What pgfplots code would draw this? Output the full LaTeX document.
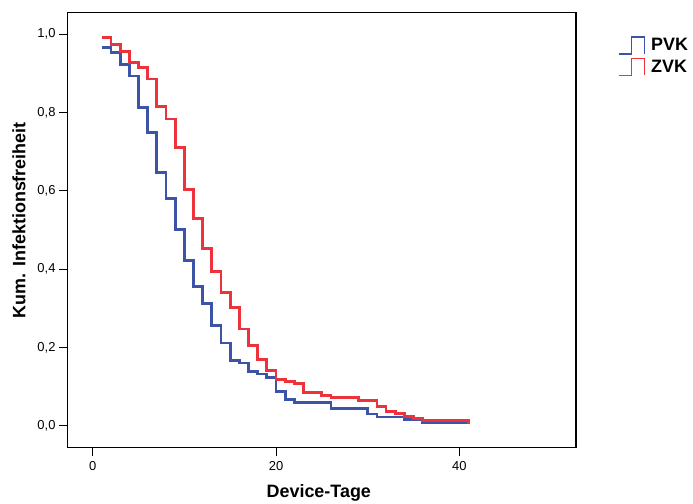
\documentclass[border=0pt]{standalone}
\usepackage{fontspec}
\setmainfont{Liberation Sans}
\usepackage{pgfplots}
\pgfplotsset{compat=1.18}
\definecolor{pvkblue}{RGB}{60,84,168}
\definecolor{zvkred}{RGB}{238,50,60}
\begin{document}
\begin{tikzpicture}
\useasboundingbox (-67.7bp,-56.3bp) rectangle (625.3bp,447.7bp);
\begin{axis}[
  scale only axis,
  width=508.3bp, height=435bp,
  at={(0,0)}, anchor=south west,
  xmin=-2.73, xmax=52.72,
  ymin=-0.0562, ymax=1.0544,
  xtick={0,20,40},
  ytick={0,0.2,0.4,0.6,0.8,1.0},
  xtick pos=bottom, ytick pos=left,
  tick align=outside,
  major tick length=8.7bp,
  tick style={black, line width=1bp},
  axis line style={black, line width=1.1bp},
  /pgf/number format/assume math mode=true,
  ticklabel style={font=\fontsize{13}{15}\selectfont},
  yticklabel style={/pgf/number format/.cd, fixed, fixed zerofill, precision=1, use comma},
  xticklabel style={yshift=-2bp},
  xlabel={Device-Tage},
  ylabel={Kum. Infektionsfreiheit},
  label style={font=\bfseries\fontsize{18}{21}\selectfont},
  xlabel style={at={(axis description cs:0.494,0)}, yshift=-45bp, anchor=center},
  ylabel style={at={(axis description cs:-0.096,0.523)}, anchor=center},
  legend style={at={(1.076,0.951)}, anchor=north west, draw=none, fill=none,
    font=\bfseries\fontsize{18}{20}\selectfont, row sep=3bp,
    /tikz/every odd column/.append style={column sep=4bp}},
  legend cell align=left,
  legend image code/.code={\draw[#1, line width=1.4bp]
    (0bp,-8.5bp) -- (13bp,-8.5bp) -- (13bp,8.5bp) -- (26bp,8.5bp) -- (26bp,-8.5bp);},
]
\addplot[const plot, pvkblue, line width=2.8bp] coordinates {
  (1,0.966) (2,0.953) (3,0.923) (4,0.893) (5,0.812) (6,0.749) (7,0.646)
  (8,0.580) (9,0.501) (10,0.422) (11,0.356) (12,0.312) (13,0.256) (14,0.211)
  (15,0.166) (16,0.160) (17,0.139) (18,0.132) (19,0.124) (20,0.088) (21,0.066)
  (22,0.060) (26,0.044) (30,0.030) (31,0.022) (34,0.015) (36,0.007) (41,0.007)
};
\addlegendentry{PVK}
\addplot[const plot, zvkred, line width=2.8bp] coordinates {
  (1,0.991) (2,0.974) (3,0.955) (4,0.928) (5,0.914) (6,0.885) (7,0.815)
  (8,0.783) (9,0.710) (10,0.604) (11,0.528) (12,0.452) (13,0.394) (14,0.341)
  (15,0.301) (16,0.247) (17,0.205) (18,0.170) (19,0.141) (20,0.118) (21,0.112)
  (22,0.107) (23,0.084) (25,0.078) (26,0.071) (29,0.065) (31,0.048) (32,0.037)
  (33,0.031) (34,0.024) (35,0.018) (36,0.013) (41,0.013) (41,0.004)
};
\addlegendentry{ZVK}
\end{axis}
\end{tikzpicture}
\end{document}
